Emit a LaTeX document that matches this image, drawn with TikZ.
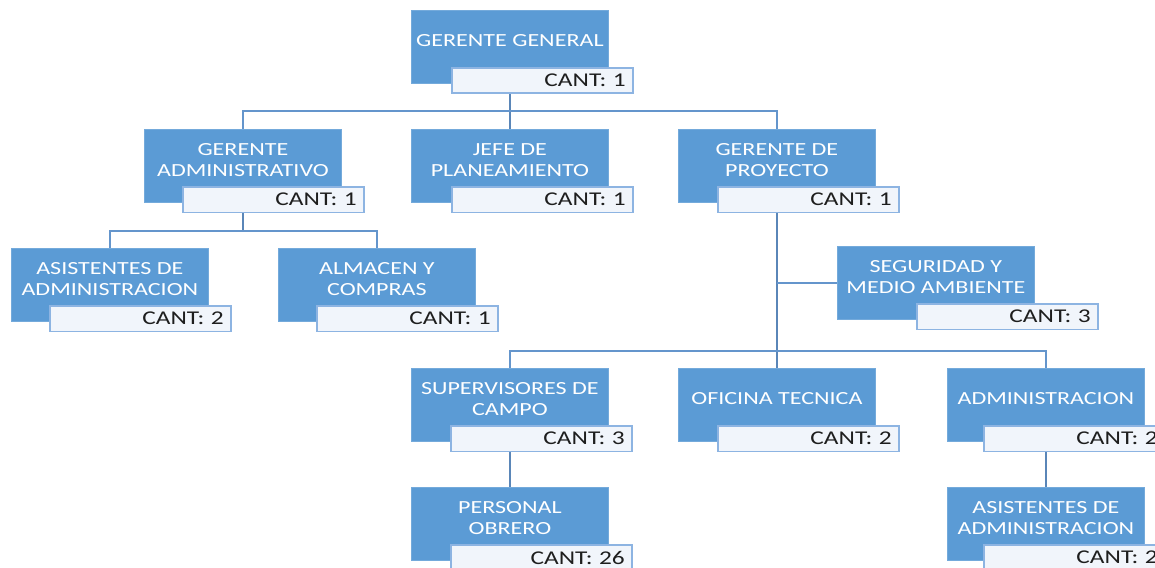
\documentclass[tikz,border=0pt]{standalone}
\usepackage{fontspec}
\usetikzlibrary{calc,backgrounds}
\newfontfamily\orgfont[FakeStretch=1.3]{Carlito}
\definecolor{boxblue}{HTML}{5B9BD5}
\definecolor{cantfill}{HTML}{F1F5FB}
\definecolor{cantdraw}{HTML}{8DB4E2}
\definecolor{linkblue}{HTML}{6495CC}
\definecolor{canttext}{HTML}{1E1E1E}
\tikzset{
  bluebox/.style={rectangle, fill=boxblue, draw=boxblue!85!white, line width=0.8pt,
    minimum width=197pt, minimum height=73pt, inner sep=0pt, anchor=north west},
  boxtext/.style={text=white, align=center, inner sep=0pt,
    font=\orgfont\fontsize{18.5}{20.5}\selectfont},
  cantbox/.style={rectangle, fill=cantfill, draw=cantdraw, line width=1.6pt,
    text width=167pt, align=right, inner xsep=7pt, inner ysep=0pt,
    minimum height=25.5pt, anchor=north west, text=canttext,
    font=\orgfont\fontsize{19.5}{20}\selectfont},
  link/.style={draw=linkblue, line width=2pt},
  mainlink/.style={draw=linkblue!90!black, line width=2.6pt}
}
\newcommand{\orgbox}[6]{%
  \node[bluebox] (#1) at (#2,#3) {};
  \node[boxtext] (#1t) at ([yshift=-31pt]#1.north) {#4};
  \node[cantbox] (#1c) at ($(#1.north west)+(#6,57)$) {#5};
}
\begin{document}
\begin{tikzpicture}[x=1pt,y=-1pt]
\useasboundingbox (0,0) rectangle (1155,567);
\clip (0,0) rectangle (1155,567);
\orgbox{gg}{411}{10}{GERENTE GENERAL}{CANT: 1}{40}
\orgbox{ga}{144}{129}{GERENTE\\ADMINISTRATIVO}{CANT: 1}{38}
\orgbox{jp}{411}{129}{JEFE DE\\PLANEAMIENTO}{CANT: 1}{40}
\orgbox{gp}{678}{129}{GERENTE DE\\PROYECTO}{CANT: 1}{39}
\orgbox{aa}{11}{248}{ASISTENTES DE\\ADMINISTRACION}{CANT: 2}{38}
\orgbox{ac}{278}{248}{ALMACEN Y\\COMPRAS}{CANT: 1}{38}
\orgbox{sm}{837}{246}{SEGURIDAD Y\\MEDIO AMBIENTE}{CANT: 3}{79}
\orgbox{sc}{411}{368}{SUPERVISORES DE\\CAMPO}{CANT: 3}{39}
\orgbox{ot}{678}{368}{OFICINA TECNICA}{CANT: 2}{39}
\orgbox{ad}{947}{368}{ADMINISTRACION}{CANT: 2}{36}
\orgbox{po}{411}{487}{PERSONAL\\OBRERO}{CANT: 26}{39}
\orgbox{ab}{947}{487}{ASISTENTES DE\\ADMINISTRACION}{CANT: 2}{36}
\begin{scope}[on background layer]
  \coordinate (b1) at ($(gg.south)+(0,27)$);
  \coordinate (b2) at ($(ga.south)+(0,28)$);
  \coordinate (b3) at ($(gp.south)+(0,148)$);
  \draw[mainlink] (gg.south) -- (jp.north);
  \draw[link] (ga.north) |- (b1) -| (gp.north);
  \draw[mainlink] (ga.south) -- (b2);
  \draw[link] (aa.north) |- (b2) -| (ac.north);
  \draw[mainlink] (gp.south) -- (ot.north);
  \draw[link] (gp.south |- sm.west) -- (sm.west);
  \draw[link] (sc.north) |- (b3) -| (ad.north);
  \draw[mainlink] (sc.south) -- (po.north);
  \draw[mainlink] (ad.south) -- (ab.north);
\end{scope}
\end{tikzpicture}
\end{document}
